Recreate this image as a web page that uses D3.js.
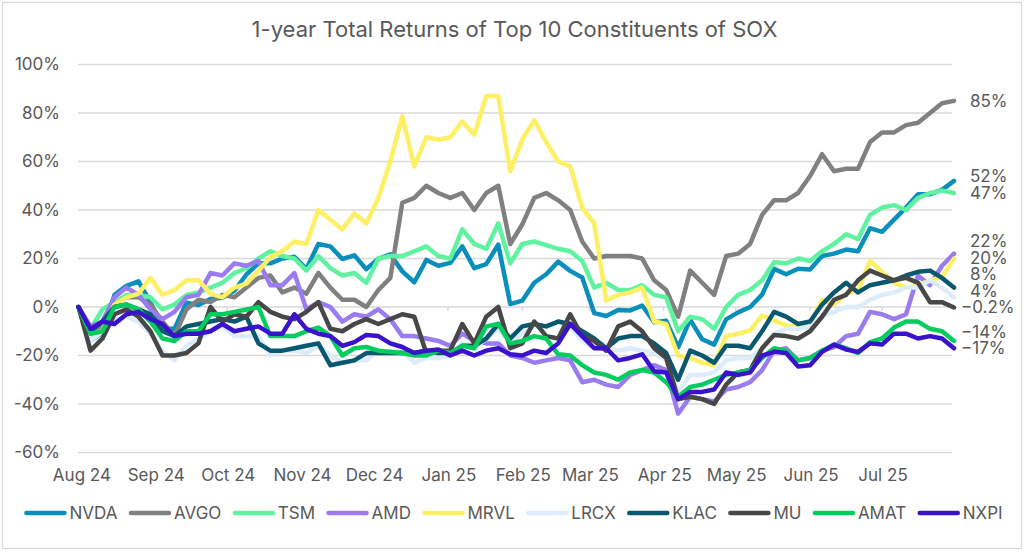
<!DOCTYPE html>
<html><head><meta charset="utf-8">
<script src="https://cdn.jsdelivr.net/npm/d3@7"></script>
<style>
body{margin:0;background:#fff;}
svg text{font-family:Inter,"Noto Sans",sans-serif;}
</style></head><body>
<svg id="chart" width="1029" height="552"></svg>
<script>
const title = "1-year Total Returns of Top 10 Constituents of SOX";
const dates = ["2024-07-31","2024-08-05","2024-08-10","2024-08-15","2024-08-20","2024-08-25","2024-08-30","2024-09-04","2024-09-09","2024-09-14","2024-09-19","2024-09-24","2024-09-29","2024-10-04","2024-10-09","2024-10-14","2024-10-19","2024-10-24","2024-10-29","2024-11-03","2024-11-08","2024-11-13","2024-11-18","2024-11-23","2024-11-28","2024-12-03","2024-12-08","2024-12-13","2024-12-18","2024-12-23","2024-12-28","2025-01-02","2025-01-07","2025-01-12","2025-01-17","2025-01-22","2025-01-27","2025-02-01","2025-02-06","2025-02-11","2025-02-16","2025-02-21","2025-02-26","2025-03-03","2025-03-08","2025-03-13","2025-03-18","2025-03-23","2025-03-28","2025-04-02","2025-04-07","2025-04-12","2025-04-17","2025-04-22","2025-04-27","2025-05-02","2025-05-07","2025-05-12","2025-05-17","2025-05-22","2025-05-27","2025-06-01","2025-06-06","2025-06-11","2025-06-16","2025-06-21","2025-06-26","2025-07-01","2025-07-06","2025-07-11","2025-07-16","2025-07-21","2025-07-26","2025-07-31"];
const tickels = ["2024-08-01","2024-09-01","2024-10-01","2024-11-01","2024-12-01","2025-01-01","2025-02-01","2025-03-01","2025-04-01","2025-05-01","2025-06-01","2025-07-01"];
const yTicks = [-60,-40,-20,0,20,40,60,80,100];

const NVDA = [0,-14,-10.5,5,8.7,10.6,2,-9,-9,1.8,0.8,3.3,3.8,6.7,13.4,18,18,20,20.7,15.7,26,25,19.8,21.3,15.6,19.9,21.7,14.7,10.2,19.4,17,18.2,25,16,17.7,25.7,1.2,2.6,10,13.5,18.7,14.9,12.2,-2.5,-3.7,-1.2,-1.4,0.6,-6.3,-5.7,-16.6,-5.2,-13.3,-15.5,-5.1,-2.2,0,5.1,15.7,13.5,15.8,15.5,21,22,23.7,23,32.5,31,36,41,46.5,46.5,48.3,52];
const AVGO = [0,-12,-7,2,4,4,1,-6,-12,-1,3,2,5,4,8,12,13,6,8,5.5,14,8,3,3,0,7,12,43,45,50,47,45,47,40,47,50,26,34,45,47,44,40,27,20,21,21,21,20,11,7,-4,15,10,5,21,22,26,38,44,44,47,54,63,56,57,57,68,72,72,75,76,80,84,85];
const TSM = [0,-9,-1,2,5,5,4,-1,1,5,6,8,10,14,16,20,23,21,20,15,21,16,13,14,10,20,21,21,23,25,21,20,32,26,24,34.5,18,26,27,25.5,24,23,19,8,10,7,7,9,5,4,-10,-4,-5,-9,0,5,7,11,18.5,18,20,19,23,26,30,28,38,41,42,40,45,47,48,47];
const AMD = [0,-8,-6,4,8,5,-1,-5,-2,4,5,14,13,18,17,19,9,9,14,-1,2,0,-6,-3,-4,-1,-5,-12,-12,-13,-14,-16,-11,-14,-15,-15,-20,-21,-23,-22,-21,-22,-31,-30,-32,-33,-28,-26,-24,-26,-44,-37,-38,-39,-34,-33,-31,-26,-18,-17,-22,-21,-18,-16.5,-12,-11,-2,-3,-5,-3,13,9,17,22];
const MRVL = [0,-11.6,-9.6,1,4,5.5,12,5,7,11,11,5.5,4,8,9.6,15,20.5,23,27,26,40,36,32,38.6,34.5,45,60,78.6,58,70,69,70,76.5,71,87,87,56,69,77,68,60,58,41,34.5,2.8,5,6,8,-6,-7,-20,-21,-23,-24,-12,-11,-9.7,-3.5,-5.5,-7.6,-8,-7,3,1,5.5,7,19,14.5,10,8,9,11,12.4,20];
const LRCX = [0,-14,-10,-5,-4,-6,-11,-18,-22,-16,-13,-10,-8,-12,-12,-12,-20,-18,-18,-19,-16,-20,-23,-22,-22,-18,-19,-18,-23,-21,-21,-20,-15,-17,-13,-9,-15,-11,-8,-8,-6,-8,-14,-17,-17,-18,-17,-18,-19,-22,-35,-28,-28,-27,-22,-21,-21,-17,-11,-9,-9,-8,-4,-2,0,0,3,5,6,8,8,11,8,4];
const KLAC = [0,-10,-6,0,1,-1,-3,-10,-12,-8,-7,-6,-5,-6,-4,-15,-18,-18,-17,-16,-15,-24,-23,-22,-19,-19,-19,-19,-19,-18,-19,-19,-16,-16,-13,-7,-13,-8,-7,-8,-6,-7,-10,-13,-17,-13,-12,-12,-15,-19,-30,-18,-20,-23,-16,-16,-17,-10,-2,-4,-7,-6,1,6,10,6,9,10,11,13,14.5,15,12,8];
const MU = [0,-18,-13,-3,-1,-4,-10,-20,-20,-19,-15,0,-6,-3,-4,2,-2,-4,-5,-2,2,-9,-10,-7,-5,-7,-5,-3,-4,-19,-18,-18,-7,-15,-4,0,-17,-15,-6,-12,-13,-3,-12,-14,-18,-8,-6,-10,-17,-21,-38,-37,-38,-40,-32,-27,-26,-17,-11.5,-12,-13,-10,-4,3,5,11,15,13,11,12,10,2,2,-0.2];
const AMAT = [0,-11,-10,0,1,-1,-6,-13,-14,-10,-10,-3,-3,-2,-1,0,-12,-12,-12,-10,-8.5,-12,-20,-17,-16.5,-18,-18.5,-19,-20,-20,-18,-19,-16,-17,-8,-7,-15,-14,-12,-13,-19.5,-20,-24,-27,-28,-30,-27,-26,-27,-31,-37,-33,-32,-30,-28,-27,-26,-21,-17,-18,-22,-21,-18,-15.5,-17,-19,-14.5,-13,-8.5,-6,-6,-9,-10,-14];
const NXPI = [0,-9,-6,-7,-3,-2,-5,-7,-12,-11,-11,-10,-7,-10,-9,-8,-11,-11,-3,-9,-11,-12,-16,-14.5,-11.5,-12,-15,-16.5,-19,-18,-17.5,-20,-18,-20,-18,-17,-19.5,-20,-18,-19,-15,-7,-12,-17,-17,-22,-21,-19.5,-26.5,-27,-38,-35,-35,-34,-27,-28,-27,-20,-18.5,-19,-24.5,-24,-18.5,-15.5,-17.5,-18.5,-15,-15.5,-11,-11,-13,-12,-13,-17];

const names = ["NVDA","AVGO","TSM","AMD","MRVL","LRCX","KLAC","MU","AMAT","NXPI"];
const values = [NVDA,AVGO,TSM,AMD,MRVL,LRCX,KLAC,MU,AMAT,NXPI];
const colors = ["#0a8fbd","#808080","#5ff3a1","#9a7cf0","#fdf064","#dcecfb","#0a5870","#474747","#05cc5f","#3b12cc"];

const svg = d3.select("#chart");
const parse = d3.timeParse("%Y-%m-%d");
const D = dates.map(parse);
const x = d3.scaleTime().domain([D[0], D[D.length-1]]).range([78.5, 954]);
const y = d3.scaleLinear().domain([-60,100]).range([452.5, 64.5]);
const gridX0 = 78, gridX1 = 952;
const txt = "#595959";
const fs = 17;

svg.append("rect").attr("width",1029).attr("height",552).attr("fill","#fff");
svg.append("rect").attr("x",2.5).attr("y",2.5).attr("width",1019).attr("height",546)
  .attr("fill","none").attr("stroke","#d9d9d9").attr("stroke-width",1.2);

svg.append("text").attr("x",514.5).attr("y",37).attr("text-anchor","middle")
  .attr("font-size",22).attr("fill",txt).text(title);

// grid
svg.append("g").selectAll("line").data(yTicks).join("line")
  .attr("x1",gridX0).attr("x2",gridX1).attr("y1",d=>y(d)).attr("y2",d=>y(d))
  .attr("stroke","#d9d9d9").attr("stroke-width",1.5);
svg.append("g").selectAll("text").data(yTicks).join("text")
  .attr("x",60).attr("y",d=>y(d)).attr("dy","0.35em").attr("text-anchor","end")
  .attr("font-size",fs).attr("fill",txt).text(d=>d+"%");

// x axis ticks at 0 line
const T = tickels.map(parse);
svg.append("g").selectAll("line").data(T).join("line")
  .attr("x1",d=>x(d)).attr("x2",d=>x(d)).attr("y1",y(0)).attr("y2",y(0)+4)
  .attr("stroke","#d9d9d9").attr("stroke-width",1.5);
const fmtM = d3.timeFormat("%b %y");
svg.append("g").selectAll("text").data(T).join("text")
  .attr("x",d=>x(d)+1).attr("y",481).attr("text-anchor","middle")
  .attr("font-size",fs).attr("fill",txt).text(d=>fmtM(d));

// lines
const line = d3.line().x((d,i)=>x(D[i])).y(d=>y(d)).curve(d3.curveLinear);
svg.append("g").selectAll("path").data(values).join("path")
  .attr("d",d=>line(d)).attr("fill","none")
  .attr("stroke",(d,i)=>colors[i]).attr("stroke-width",4.5)
  .attr("stroke-linejoin","round").attr("stroke-linecap","round");

// end labels: keep lowest label at its value, push the ones above upward
const fmtV = v => (Math.abs(v) < 1 ? d3.format(".1f")(v) : d3.format(".0f")(v)) + "%";
let labs = values.map((v,i)=>({v:v[v.length-1], y:y(v[v.length-1])})).sort((a,b)=>b.y-a.y);
const gap = 16.6;
for (let k=1;k<labs.length;k++){
  labs[k].y = Math.min(labs[k].y, labs[k-1].y - gap);
}
svg.append("g").selectAll("text").data(labs).join("text")
  .attr("x",d=>d.v<0?961:970).attr("y",d=>d.y).attr("dy","0.35em")
  .attr("font-size",fs).attr("fill",txt).text(d=>fmtV(d.v));

// legend
const lg = svg.append("g");
const lineLen = 42, tgap = 3, igap = 11.5, ly = 513;
let cx = 0;
names.forEach((n,i)=>{
  const g = lg.append("g");
  g.append("line").attr("x1",cx+2).attr("x2",cx+lineLen-2).attr("y1",ly).attr("y2",ly)
    .attr("stroke",colors[i]).attr("stroke-width",4.5).attr("stroke-linecap","round");
  const t = g.append("text").attr("x",cx+lineLen+tgap).attr("y",ly).attr("dy","0.35em")
    .attr("font-size",fs).attr("fill",txt).text(n);
  cx += lineLen + tgap + t.node().getComputedTextLength() + igap;
});
const total = cx - igap;
lg.attr("transform",`translate(${(1029-total)/2 - 1},0)`);
</script>
</body></html>
